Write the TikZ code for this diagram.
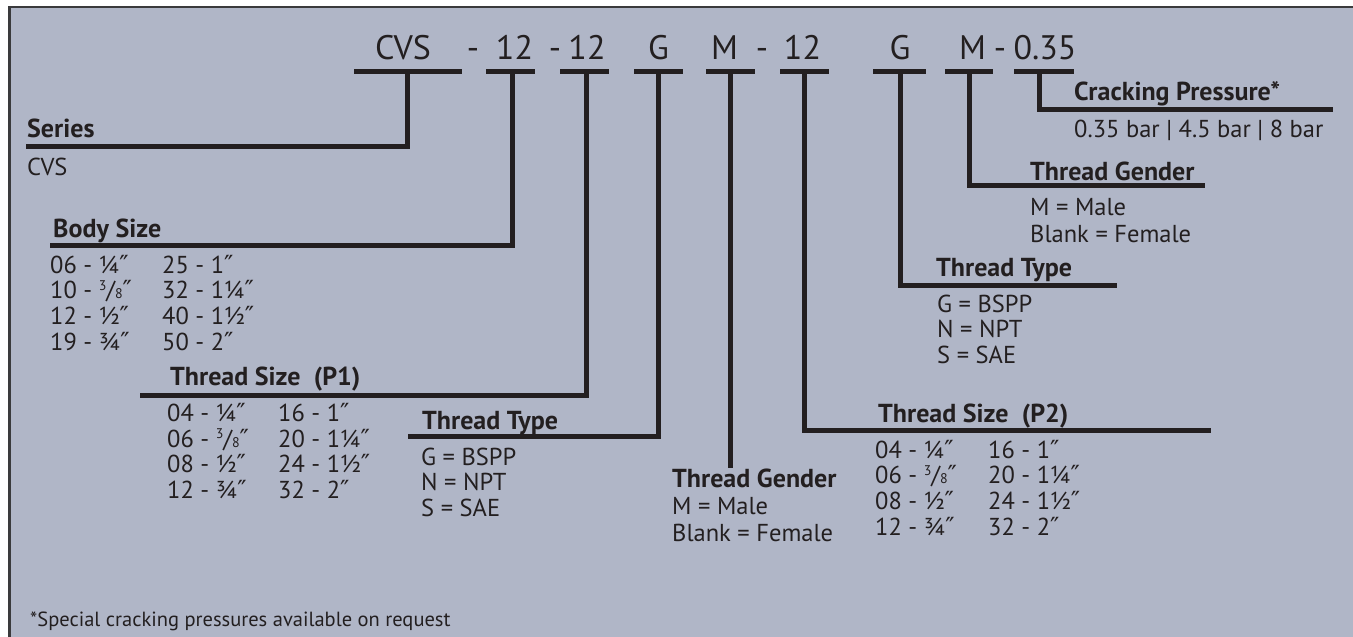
\documentclass[tikz,border=0pt]{standalone}
\usepackage{fontspec}
\setmainfont{PT Sans}
\newfontfamily\primefont{DejaVu Sans}
\usetikzlibrary{calc}
\definecolor{inkblack}{RGB}{35,31,32}
\definecolor{panelgray}{RGB}{176,182,199}
\definecolor{framegray}{RGB}{58,58,60}
\newcommand{\thrEig}{{\fontsize{14}{14}\selectfont\raisebox{8.5pt}{3}}/{\fontsize{14}{14}\selectfont 8}}
\newcommand{\inch}{{\primefont\fontsize{25}{28}\selectfont ″}}

\begin{document}
\begin{tikzpicture}[
  x=1pt, y=-1pt,
  codetxt/.style={anchor=base, inner sep=0pt, font=\fontsize{34}{40}\selectfont, text=inkblack},
  headtxt/.style={anchor=base west, inner sep=0pt, font=\fontsize{26}{30}\selectfont\bfseries, text=inkblack},
  entrytxt/.style={anchor=base west, inner sep=0pt, font=\fontsize{24.5}{28}\selectfont, text=inkblack},
  notetxt/.style={anchor=base west, inner sep=0pt, font=\fontsize{20.5}{24}\selectfont, text=inkblack},
  bar/.style={draw=inkblack, line width=5pt}
]
\useasboundingbox (0,0) rectangle (1353,637);
\clip (0,0) rectangle (1353,637);
\fill[white] (0,0) rectangle (1353,637);
\draw[framegray, line width=2.5pt, fill=panelgray] (9.5,7) rectangle (1400,700);

% part number
\node[codetxt] (cvs) at (403,59) {CVS};
\node[codetxt] (d1) at (473,59) {-};
\node[codetxt] (bsz) at (514.5,59) {12};
\node[codetxt] (d2) at (555,59) {-};
\node[codetxt] (tsa) at (587,59) {12};
\node[codetxt] (tta) at (658.5,59) {G};
\node[codetxt] (tga) at (724.5,59) {M};
\node[codetxt] (d3) at (762,59) {-};
\node[codetxt] (tsb) at (802.5,59) {12};
\node[codetxt] (ttb) at (900,59) {G};
\node[codetxt] (tgb) at (972.5,59) {M};
\node[codetxt] (d4) at (1000,59) {-};
\node[codetxt] (cpr) at (1045,59) {0.35};

\foreach \a/\b/\t/\n in {354/462/407.5/cvs, 486/535/512/bsz, 560/609/586/tsa, 634/683/658/tta, 706/755/730/tga, 780/829/804/tsb, 873/926/900/ttb, 945/993/969/tgb, 1014/1074/1039/cpr}{
  \draw[bar] (\a,71) -- (\b,71);
  \coordinate (t-\n) at (\t,71);
}

% ends of the heading rules
\coordinate (e-cvs) at (26,146.5);
\coordinate (e-bsz) at (50,245.5);
\coordinate (e-tsa) at (140,395.5);
\coordinate (e-tta) at (408,436);
\coordinate (e-tga) at (730,468);
\coordinate (e-tsb) at (1211,430);
\coordinate (e-ttb) at (1117,285);
\coordinate (e-tgb) at (1205,185.5);
\coordinate (e-cpr) at (1333,109.5);

\draw[bar] (t-cvs) |- (e-cvs);
\draw[bar] (t-bsz) |- (e-bsz);
\draw[bar] (t-tsa) |- (e-tsa);
\draw[bar] (t-tta) |- (e-tta);
\draw[bar] (t-tga) -- (e-tga);
\draw[bar] (t-tsb) |- (e-tsb);
\draw[bar] (t-ttb) |- (e-ttb);
\draw[bar] (t-tgb) |- (e-tgb);
\draw[bar] (t-cpr) |- (e-cpr);

% headings
\node[headtxt] (h-cvs) at (27,137) {Series};
\node[entrytxt] (v-cvs) at (27,175) {CVS};
\node[headtxt] (h-bsz) at (53,237) {Body Size};
\node[headtxt] (h-tsa) at (170,385) {Thread Size\ \ (P1)};
\node[headtxt] (h-tta) at (422,429) {Thread Type};
\node[headtxt] (h-tga) at (672,487) {Thread Gender};
\node[headtxt] (h-tsb) at (878,422) {Thread Size\ \ (P2)};
\node[headtxt] (h-ttb) at (936,276) {Thread Type};
\node[headtxt] (h-tgb) at (1030,180) {Thread Gender};
\node[headtxt] (h-cpr) at (1074,100) {Cracking Pressure*};
\node[entrytxt] (v-cpr) at (1074,137) {0.35 bar | 4.5 bar | 8 bar};

% size tables
\foreach \s [count=\i] in {06 - ¼\inch, 10 - \thrEig\inch, 12 - ½\inch, 19 - ¾\inch}
  \node[entrytxt] (bsz-a\i) at (50,{273+25.7*(\i-1)}) {\s};
\foreach \s [count=\i] in {25 - 1\inch, 32 - 1¼\inch, 40 - 1½\inch, 50 - 2\inch}
  \node[entrytxt] (bsz-b\i) at (162,{273+25.7*(\i-1)}) {\s};
\foreach \s [count=\i] in {04 - ¼\inch, 06 - \thrEig\inch, 08 - ½\inch, 12 - ¾\inch}
  \node[entrytxt] (tsa-a\i) at (167,{421.5+25.5*(\i-1)}) {\s};
\foreach \s [count=\i] in {16 - 1\inch, 20 - 1¼\inch, 24 - 1½\inch, 32 - 2\inch}
  \node[entrytxt] (tsa-b\i) at (278,{421.5+25.5*(\i-1)}) {\s};
\foreach \s [count=\i] in {04 - ¼\inch, 06 - \thrEig\inch, 08 - ½\inch, 12 - ¾\inch}
  \node[entrytxt] (tsb-a\i) at (875,{458+25.7*(\i-1)}) {\s};
\foreach \s [count=\i] in {16 - 1\inch, 20 - 1¼\inch, 24 - 1½\inch, 32 - 2\inch}
  \node[entrytxt] (tsb-b\i) at (988,{458+25.7*(\i-1)}) {\s};

% type and gender lists
\foreach \s [count=\i] in {G = BSPP, N = NPT, S = SAE}{
  \node[entrytxt] (tta-\i) at (421,{465+25.5*(\i-1)}) {\s};
  \node[entrytxt] (ttb-\i) at (937,{312+25.5*(\i-1)}) {\s};
}
\foreach \s [count=\i] in {M = Male, Blank = Female}{
  \node[entrytxt] (tga-\i) at (672,{514+27*(\i-1)}) {\s};
  \node[entrytxt] (tgb-\i) at (1030,{215+27*(\i-1)}) {\s};
}

\node[notetxt] (fn) at (30,626) {*Special cracking pressures available on request};
\end{tikzpicture}
\end{document}
